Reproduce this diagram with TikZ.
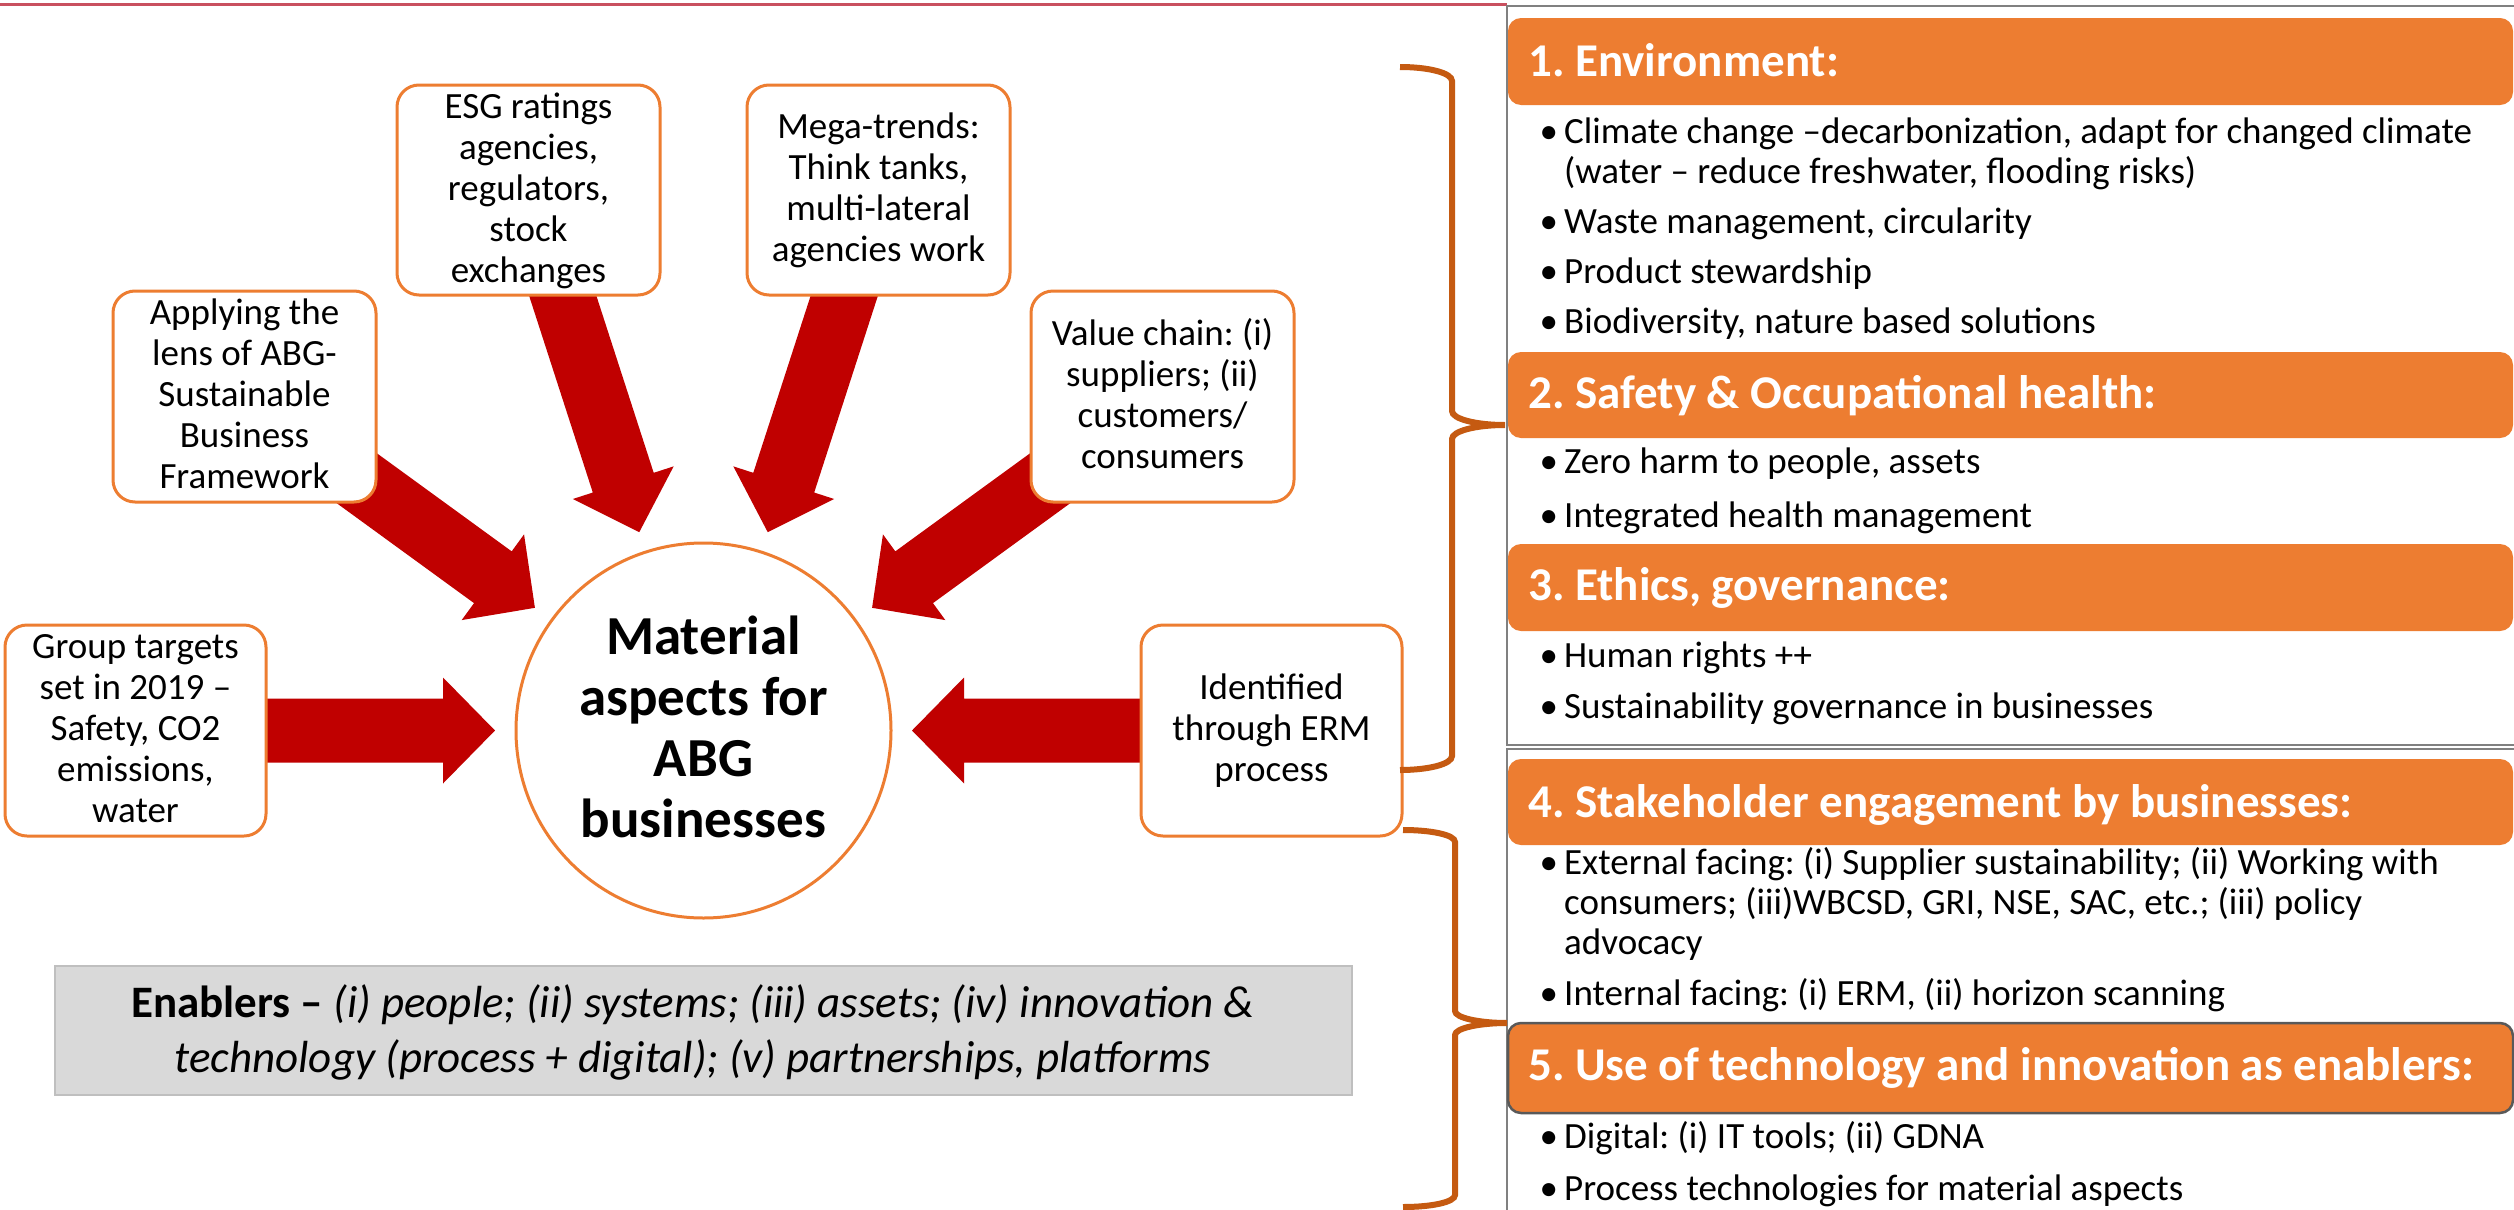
\documentclass[tikz,border=0pt]{standalone}
\usepackage{fontspec}
\setmainfont{Carlito}
\frenchspacing
\usetikzlibrary{calc,backgrounds}
\definecolor{hdror}{HTML}{ED7D31}
\definecolor{boxor}{HTML}{ED7D31}
\definecolor{bracec}{HTML}{C55A11}
\definecolor{arrowred}{HTML}{C00000}
\definecolor{panelgray}{HTML}{808080}
\definecolor{hdrborder}{HTML}{595959}
\definecolor{enabfill}{HTML}{D9D9D9}
\definecolor{enabdraw}{HTML}{BFBFBF}
\definecolor{topred}{HTML}{C9505F}
\newcommand\bodyfont{\fontsize{37}{40}\selectfont}
\newcommand\boxfont{\fontsize{37}{41}\selectfont}
\newcommand\hdrfont{\fontsize{47}{56}\selectfont\bfseries}
\newcommand\circfont{\fontsize{55}{61}\selectfont\bfseries}
\newcommand\enabfont{\fontsize{45}{55}\selectfont}
\newcommand\ist{\rule[-11pt]{0pt}{40pt}}
\newcommand\bst{\rule[-10.5pt]{0pt}{41pt}}
\newcommand\cst{\rule[-15.5pt]{0pt}{61pt}}
\newcommand\est{\rule[-13.5pt]{0pt}{55pt}}
\newcommand\bul{\llap{\makebox[31pt][c]{•}}}
\newcommand\fatarrow[1]{%
  \path ($(mat)!260.5pt!(#1)$) coordinate (hb-#1);
  \fill[arrowred] ($(mat)!208.5pt!(#1)$)
    -- ($(hb-#1)!53pt!90:(mat)$) -- ($(hb-#1)!32pt!90:(mat)$)
    -- ($(#1)!32pt!90:(mat)$) -- ($(#1)!32pt!-90:(mat)$)
    -- ($(hb-#1)!32pt!-90:(mat)$) -- ($(hb-#1)!53pt!-90:(mat)$) -- cycle;
}
\tikzset{
  srcbox/.style={draw=boxor, line width=3pt, fill=white, rounded corners=22pt,
    align=center, inner sep=0pt, font=\boxfont, text=black},
  matcircle/.style={circle, draw=boxor, line width=3pt, fill=white,
    minimum size=375pt, inner sep=0pt, align=center, font=\circfont},
  hdrbox/.style={fill=hdror, rounded corners=13pt, minimum width=1005pt,
    inner sep=0pt},
  hdrtext/.style={anchor=base west, inner sep=0pt, text=white, font=\hdrfont},
  itemtext/.style={anchor=north west, inner sep=0pt, align=left, font=\bodyfont},
  panel/.style={draw=panelgray, line width=2pt},
  bracepath/.style={draw=bracec, line width=6pt},
  enabbox/.style={fill=enabfill, draw=enabdraw, line width=2.5pt, inner sep=0pt},
}
\begin{document}
\begin{tikzpicture}[x=1pt,y=-1pt]
\useasboundingbox (0,0) rectangle (2514,1210);

% top line and panels
\coordinate (tl0) at (0,4.5);
\coordinate (tl1) at (1507,4.5);
\draw[topred, line width=3pt] (tl0) -- (tl1);
\draw[panel] (1507,5.5) rectangle (2540,744.5);
\draw[panel] (1507,748.5) rectangle (2540,1240);

% left side nodes
\node[matcircle] (mat) at (703.5,730.5) {\cst Material\\\cst aspects for\\\cst ABG\\\cst businesses};
\node[srcbox, minimum width=261pt, minimum height=211pt] (grp) at (135.5,730.5)
  {\bst Group targets\\\bst set in 2019 –\\\bst Safety, CO2\\\bst emissions,\\\bst water};
\node[srcbox, minimum width=263pt, minimum height=211pt] (app) at (244.5,396.5)
  {\bst Applying the\\\bst lens of ABG-\\\bst Sustainable\\\bst Business\\\bst Framework};
\node[srcbox, minimum width=263pt, minimum height=210pt] (esg) at (528.5,190)
  {\bst ESG ratings\\\bst agencies,\\\bst regulators,\\\bst stock\\\bst exchanges};
\node[srcbox, minimum width=263pt, minimum height=210pt] (meg) at (878.5,190)
  {\bst Mega-trends:\\\bst Think tanks,\\\bst multi-lateral\\\bst agencies work};
\node[srcbox, minimum width=263pt, minimum height=211pt] (val) at (1162.5,396.5)
  {\bst Value chain: (i)\\\bst suppliers; (ii)\\\bst customers/\\\bst consumers};
\node[srcbox, minimum width=261pt, minimum height=211pt] (erm) at (1271.5,730.5)
  {\bst Identified\\\bst through ERM\\\bst process};

\begin{scope}[on background layer]
  \fill[white] (0,0) rectangle (2514,1210);
  \fatarrow{grp}
  \fatarrow{app}
  \fatarrow{esg}
  \fatarrow{meg}
  \fatarrow{val}
  \fatarrow{erm}
\end{scope}

% enablers
\node[enabbox, minimum width=1297pt, minimum height=129pt] (enab) at (703.5,1030.5) {};
\node[inner sep=0pt, align=center, font=\enabfont\itshape] (enabtxt) at (693,1030.5)
  {\est{\upshape\bfseries Enablers –} (i) people; (ii) systems; (iii) assets; (iv) innovation \&\\
   \est technology (process + digital); (v) partnerships, platforms};

% braces
\draw[bracepath] (1400,67) .. controls (1429,67) and (1452,73) .. (1452,81)
  -- (1452,411) .. controls (1452,419) and (1476,425) .. (1505,425)
  .. controls (1476,425) and (1452,431) .. (1452,439)
  -- (1452,756) .. controls (1452,764) and (1429,770) .. (1400,770);
\draw[bracepath] (1403,830) .. controls (1432,830) and (1455,835) .. (1455,842)
  -- (1455,1011) .. controls (1455,1018) and (1480,1023) .. (1507,1023)
  .. controls (1480,1023) and (1455,1028) .. (1455,1035)
  -- (1455,1195) .. controls (1455,1202) and (1432,1207) .. (1403,1207);

% headers
\node[hdrbox, minimum height=87pt] (h1) at (2010.5,61.5) {};
\node[hdrbox, minimum height=86pt] (h2) at (2010.5,395) {};
\node[hdrbox, minimum height=87pt] (h3) at (2010.5,587.5) {};
\node[hdrbox, minimum height=86pt] (h4) at (2010.5,802) {};
\node[hdrbox, minimum height=90pt, draw=hdrborder, line width=2.5pt] (h5) at (2010.5,1068) {};
\node[hdrtext] (h1t) at (1528,76) {1. Environment:};
\node[hdrtext] (h2t) at (1528,408) {2. Safety \& Occupational health:};
\node[hdrtext] (h3t) at (1528,600) {3. Ethics, governance:};
\node[hdrtext] (h4t) at (1528,817) {4. Stakeholder engagement by businesses:};
\node[hdrtext] (h5t) at (1528,1080) {5. Use of technology and innovation as enablers:};

% items
\node[itemtext] (i11) at (1564,114) {\bul\ist Climate change –decarbonization, adapt for changed climate\\\ist (water – reduce freshwater, flooding risks)};
\node[itemtext] (i12) at (1564,204) {\bul\ist Waste management, circularity};
\node[itemtext] (i13) at (1564,254) {\bul\ist Product stewardship};
\node[itemtext] (i14) at (1564,304) {\bul\ist Biodiversity, nature based solutions};
\node[itemtext] (i21) at (1564,444) {\bul\ist Zero harm to people, assets};
\node[itemtext] (i22) at (1564,498) {\bul\ist Integrated health management};
\node[itemtext] (i31) at (1564,638) {\bul\ist Human rights ++};
\node[itemtext] (i32) at (1564,689) {\bul\ist Sustainability governance in businesses};
\node[itemtext] (i41) at (1564,845) {\bul\ist External facing: (i) Supplier sustainability; (ii) Working with\\\ist consumers; (iii)WBCSD, GRI, NSE, SAC, etc.; (iii) policy\\\ist advocacy};
\node[itemtext] (i42) at (1564,976) {\bul\ist Internal facing: (i) ERM, (ii) horizon scanning};
\node[itemtext] (i51) at (1564,1119) {\bul\ist Digital: (i) IT tools; (ii) GDNA};
\node[itemtext] (i52) at (1564,1171) {\bul\ist Process technologies for material aspects};
\end{tikzpicture}
\end{document}
